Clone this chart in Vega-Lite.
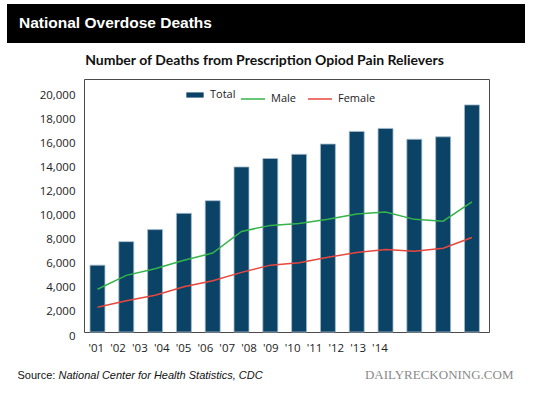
{
  "$schema": "https://vega.github.io/schema/vega-lite/v6.json",
  "padding": {"left": 7, "top": 4, "right": 0, "bottom": 0},
  "background": "white",
  "spacing": 10,
  "config": {
    "view": {"stroke": "#4a4a4a", "strokeWidth": 1},
    "font": "Open Sans"
  },
  "datasets": {
    "deaths": [
      {"year": "'01", "Total": 5550, "Male": 3550, "Female": 2050},
      {"year": "'02", "Total": 7500, "Male": 4700, "Female": 2600},
      {"year": "'03", "Total": 8500, "Male": 5250, "Female": 3050},
      {"year": "'04", "Total": 9850, "Male": 5950, "Female": 3750},
      {"year": "'05", "Total": 10900, "Male": 6550, "Female": 4250},
      {"year": "'06", "Total": 13700, "Male": 8350, "Female": 4950},
      {"year": "'07", "Total": 14400, "Male": 8850, "Female": 5550},
      {"year": "'08", "Total": 14750, "Male": 9000, "Female": 5750},
      {"year": "'09", "Total": 15600, "Male": 9350, "Female": 6200},
      {"year": "'10", "Total": 16650, "Male": 9800, "Female": 6600},
      {"year": "'11", "Total": 16900, "Male": 9950, "Female": 6850},
      {"year": "'12", "Total": 16000, "Male": 9350, "Female": 6700},
      {"year": "'13", "Total": 16200, "Male": 9200, "Female": 6950},
      {"year": "'14", "Total": 18850, "Male": 10800, "Female": 7850}
    ]
  },
  "vconcat": [
    {
      "width": 518,
      "height": 39,
      "view": {"fill": "black", "stroke": null},
      "title": {
        "text": "National Overdose Deaths",
        "anchor": "start",
        "frame": "group",
        "orient": "top",
        "baseline": "alphabetic",
        "offset": -39,
        "dx": 12,
        "color": "white",
        "font": "Liberation Sans",
        "fontSize": 15.5,
        "fontWeight": "bold"
      },
      "data": {"values": []},
      "mark": "point"
    },
    {
      "spacing": 0,
      "hconcat": [
        {
          "width": 1,
          "height": 253,
          "view": {"stroke": null},
          "data": {"values": []},
          "mark": "point"
        },
        {
          "width": 405,
          "height": 253,
          "title": {
            "text": "Number of Deaths from Prescription Opiod Pain Relievers",
            "anchor": "middle",
            "frame": "group",
            "baseline": "alphabetic",
            "offset": 0,
            "dx": -22,
            "color": "#111111",
            "font": "Lato",
            "fontSize": 14,
            "fontWeight": "bold"
          },
          "data": {"name": "deaths"},
          "layer": [
            {
              "mark": {"type": "bar", "stroke": "#a8bccb", "strokeWidth": 0.8},
              "encoding": {
                "x": {
                  "field": "year",
                  "type": "ordinal",
                  "scale": {"type": "band", "paddingInner": 0.48, "paddingOuter": 0.27, "align": 0.385},
                  "axis": {
                    "orient": "bottom",
                    "labels": false,
                    "ticks": false,
                    "domain": false,
                    "grid": false,
                    "title": "National Center for Health Statistics, CDC",
                    "titleFont": "Liberation Sans",
                    "titleFontSize": 11,
                    "titleFontStyle": "italic",
                    "titleFontWeight": "normal",
                    "titleColor": "#111111",
                    "titleAlign": "left",
                    "titleBaseline": "alphabetic",
                    "titleX": -26,
                    "titleY": 46
                  }
                },
                "y": {
                  "field": "Total",
                  "type": "quantitative",
                  "scale": {"domain": [0, 21000], "nice": false},
                  "axis": {
                    "title": null,
                    "values": [0, 2000, 4000, 6000, 8000, 10000, 12000, 14000, 16000, 18000, 20000],
                    "format": ",",
                    "labelExpr": "format(datum.value, ',')",
                    "grid": false,
                    "ticks": false,
                    "domain": false,
                    "labelOverlap": false,
                    "labelPadding": 9,
                    "labelFont": "Open Sans",
                    "labelFontSize": 11.5,
                    "labelColor": "#222222",
                    "labelOffset": 4,
                    "minExtent": 75,
                    "maxExtent": 75
                  }
                },
                "fill": {
                  "datum": "Total",
                  "scale": {"domain": ["Total"], "range": ["#0b4367"]},
                  "legend": {
                    "title": null,
                    "orient": "none",
                    "legendX": 179,
                    "legendY": 82,
                    "padding": 0,
                    "symbolType": "M-1,-0.3H1V0.3H-1Z",
                    "symbolSize": 300,
                    "symbolStrokeWidth": 0,
                    "labelFont": "Open Sans",
                    "labelFontSize": 11,
                    "labelColor": "#222222",
                    "labelOffset": 6
                  }
                }
              }
            },
            {
              "transform": [{"fold": ["Male", "Female"], "as": ["series", "value"]}],
              "mark": {"type": "line", "strokeWidth": 1.5},
              "encoding": {
                "x": {
                  "field": "year",
                  "type": "ordinal",
                  "bandPosition": 0.5,
                  "scale": {"type": "band", "paddingInner": 0.48, "paddingOuter": 0.27, "align": 0.385},
                  "axis": null
                },
                "y": {
                  "field": "value",
                  "type": "quantitative",
                  "axis": {
                    "title": null,
                    "values": [0, 2000, 4000, 6000, 8000, 10000, 12000, 14000, 16000, 18000, 20000],
                    "format": ",",
                    "labelExpr": "format(datum.value, ',')",
                    "grid": false,
                    "ticks": false,
                    "domain": false,
                    "labelOverlap": false,
                    "labelPadding": 9,
                    "labelFont": "Open Sans",
                    "labelFontSize": 11.5,
                    "labelColor": "#222222",
                    "labelOffset": 4,
                    "minExtent": 75,
                    "maxExtent": 75
                  }
                },
                "stroke": {
                  "field": "series",
                  "type": "nominal",
                  "scale": {"domain": ["Male", "Female"], "range": ["#34b44a", "#e8473d"]},
                  "legend": {
                    "title": null,
                    "orient": "none",
                    "direction": "horizontal",
                    "legendX": 233,
                    "legendY": 82,
                    "padding": 0,
                    "symbolType": "stroke",
                    "symbolSize": 576,
                    "symbolStrokeWidth": 1.5,
                    "labelFont": "Open Sans",
                    "labelFontSize": 11,
                    "labelColor": "#222222",
                    "labelOffset": 5,
                    "columnPadding": 9
                  }
                }
              }
            },
            {
              "mark": {"type": "point", "opacity": 0},
              "encoding": {
                "x": {
                  "field": "year",
                  "type": "ordinal",
                  "scale": {
                    "type": "point",
                    "domain": ["'01", "'02", "'03", "'04", "'05", "'06", "'07", "'08", "'09", "'10", "'11", "'12", "'13", "'14", "~a", "~b", "~c", "~d"],
                    "padding": 0.78,
                    "align": 0.346
                  },
                  "axis": {
                    "orient": "bottom",
                    "domain": false,
                    "ticks": false,
                    "grid": false,
                    "labelAngle": 0,
                    "labelOverlap": false,
                    "labelPadding": 10,
                    "labelExpr": "indexof(datum.value, '~') >= 0 ? '' : datum.value",
                    "labelFont": "Open Sans",
                    "labelFontSize": 11.5,
                    "labelColor": "#222222",
                    "title": "Source:",
                    "titleFont": "Liberation Sans",
                    "titleFontSize": 11,
                    "titleFontWeight": "normal",
                    "titleColor": "#111111",
                    "titleAlign": "left",
                    "titleBaseline": "alphabetic",
                    "titleX": -67,
                    "titleY": 46
                  }
                },
                "y": {
                  "field": "Total",
                  "type": "quantitative",
                  "axis": {
                    "title": null,
                    "values": [0, 2000, 4000, 6000, 8000, 10000, 12000, 14000, 16000, 18000, 20000],
                    "format": ",",
                    "labelExpr": "format(datum.value, ',')",
                    "grid": false,
                    "ticks": false,
                    "domain": false,
                    "labelOverlap": false,
                    "labelPadding": 9,
                    "labelFont": "Open Sans",
                    "labelFontSize": 11.5,
                    "labelColor": "#222222",
                    "labelOffset": 4,
                    "minExtent": 75,
                    "maxExtent": 75
                  }
                }
              }
            },
            {
              "mark": {"type": "point", "opacity": 0},
              "encoding": {
                "x": {
                  "field": "year",
                  "type": "ordinal",
                  "scale": {"type": "point"},
                  "axis": {
                    "orient": "bottom",
                    "labels": false,
                    "domain": false,
                    "ticks": false,
                    "grid": false,
                    "title": "DAILYRECKONING.COM",
                    "titleFont": "Liberation Serif",
                    "titleFontSize": 13,
                    "titleFontWeight": "normal",
                    "titleColor": "#8a8a8a",
                    "titleAlign": "right",
                    "titleBaseline": "alphabetic",
                    "titleX": 429,
                    "titleY": 46
                  }
                },
                "y": {
                  "field": "Total",
                  "type": "quantitative",
                  "axis": {
                    "title": null,
                    "values": [0, 2000, 4000, 6000, 8000, 10000, 12000, 14000, 16000, 18000, 20000],
                    "format": ",",
                    "labelExpr": "format(datum.value, ',')",
                    "grid": false,
                    "ticks": false,
                    "domain": false,
                    "labelOverlap": false,
                    "labelPadding": 9,
                    "labelFont": "Open Sans",
                    "labelFontSize": 11.5,
                    "labelColor": "#222222",
                    "labelOffset": 4,
                    "minExtent": 75,
                    "maxExtent": 75
                  }
                }
              }
            }
          ],
          "resolve": {"scale": {"x": "independent"}, "axis": {"x": "independent"}}
        }
      ]
    }
  ]
}
